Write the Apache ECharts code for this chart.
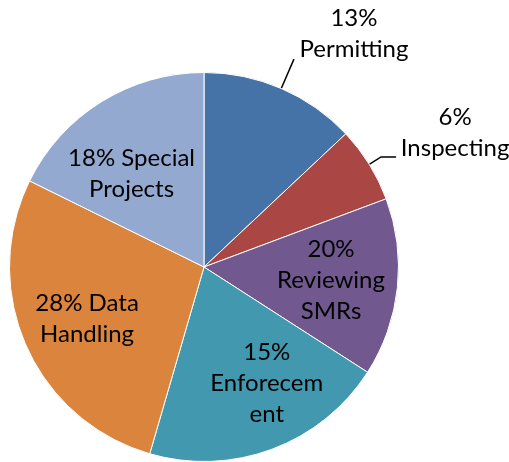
<!DOCTYPE html>
<html>
<head>
<meta charset="utf-8">
<script src="https://cdn.jsdelivr.net/npm/echarts@6/dist/echarts.min.js"></script>
<style>
  html, body { margin: 0; padding: 0; background: #fff; }
  #chart { width: 509px; height: 462px; }
</style>
</head>
<body>
<div id="chart"></div>
<script>
var categories = ["Permitting", "Inspecting", "Reviewing SMRs", "Enforecement", "Data Handling", "Special Projects"];
var values = [13, 6.3, 14.8, 20.4, 27.8, 17.7];
var labelTexts = [
  ["13%", "Permitting"],
  ["6%", "Inspecting"],
  ["20%", "Reviewing", "SMRs"],
  ["15%", "Enforecem", "ent"],
  ["28% Data", "Handling"],
  ["18% Special", "Projects"]
];
var colors = ["#4572A7", "#AA4643", "#71588F", "#4198AF", "#DB843D", "#93A9CF"];
var outsideIdx = [0, 1];

var font = "Lato, 'Open Sans', sans-serif";
var fontSize = 24;
var center = [204, 267];
var radius = 194.5;

// outside label tweaks (leader line lengths, shift of text above the line end)
var outsideCfg = {
  0: { length: 32, length2: 0, width: 114, pad: 50 },
  1: { length: 14, length2: 15, width: 112, pad: 48 }
};
// small nudges of the inside labels, as placed in the original
var insideNudge = {
  3: { dx: 18, dy: -3 },
  5: { dx: -5, dy: 15 }
};

function richText(lines) {
  return lines.map(function (l) { return "{c|" + l + "}"; }).join("\n");
}

var chart = echarts.init(document.getElementById("chart"));

var pieData = categories.map(function (name, i) {
  var item = {
    name: name,
    value: values[i],
    itemStyle: { color: colors[i] }
  };
  if (outsideIdx.indexOf(i) >= 0) {
    var cfg = outsideCfg[i];
    item.label = {
      show: true,
      position: "outside",
      formatter: richText(labelTexts[i]),
      padding: [0, 0, cfg.pad, 0],
      rich: {
        c: { width: cfg.width, align: "center", fontSize: fontSize, lineHeight: 31, color: "#000", fontFamily: font }
      }
    };
    item.labelLine = {
      show: true,
      length: cfg.length,
      length2: cfg.length2,
      lineStyle: { color: "#000", width: 1.5 }
    };
  } else {
    item.label = { show: false };
    item.labelLine = { show: false };
  }
  return item;
});

var innerData = categories.map(function (name, i) {
  var inside = outsideIdx.indexOf(i) < 0;
  return {
    name: name,
    value: values[i],
    label: {
      show: inside,
      formatter: labelTexts[i].join("\n")
    }
  };
});

chart.setOption({
  animation: false,
  series: [
    {
      type: "pie",
      center: center,
      radius: [0, radius],
      startAngle: 90,
      clockwise: true,
      avoidLabelOverlap: false,
      silent: true,
      itemStyle: { borderColor: "#fff", borderWidth: 1 },
      label: { distanceToLabelLine: 3 },
      data: pieData
    },
    {
      type: "pie",
      center: center,
      radius: [55, radius],
      startAngle: 90,
      clockwise: true,
      avoidLabelOverlap: false,
      silent: true,
      itemStyle: { color: "rgba(0,0,0,0)", borderWidth: 0 },
      labelLine: { show: false },
      label: {
        position: "inside",
        fontSize: fontSize,
        lineHeight: 31,
        color: "#000",
        fontFamily: font,
        textBorderWidth: 0
      },
      labelLayout: function (params) {
        return insideNudge[params.dataIndex] || {};
      },
      data: innerData
    }
  ]
});
</script>
</body>
</html>
